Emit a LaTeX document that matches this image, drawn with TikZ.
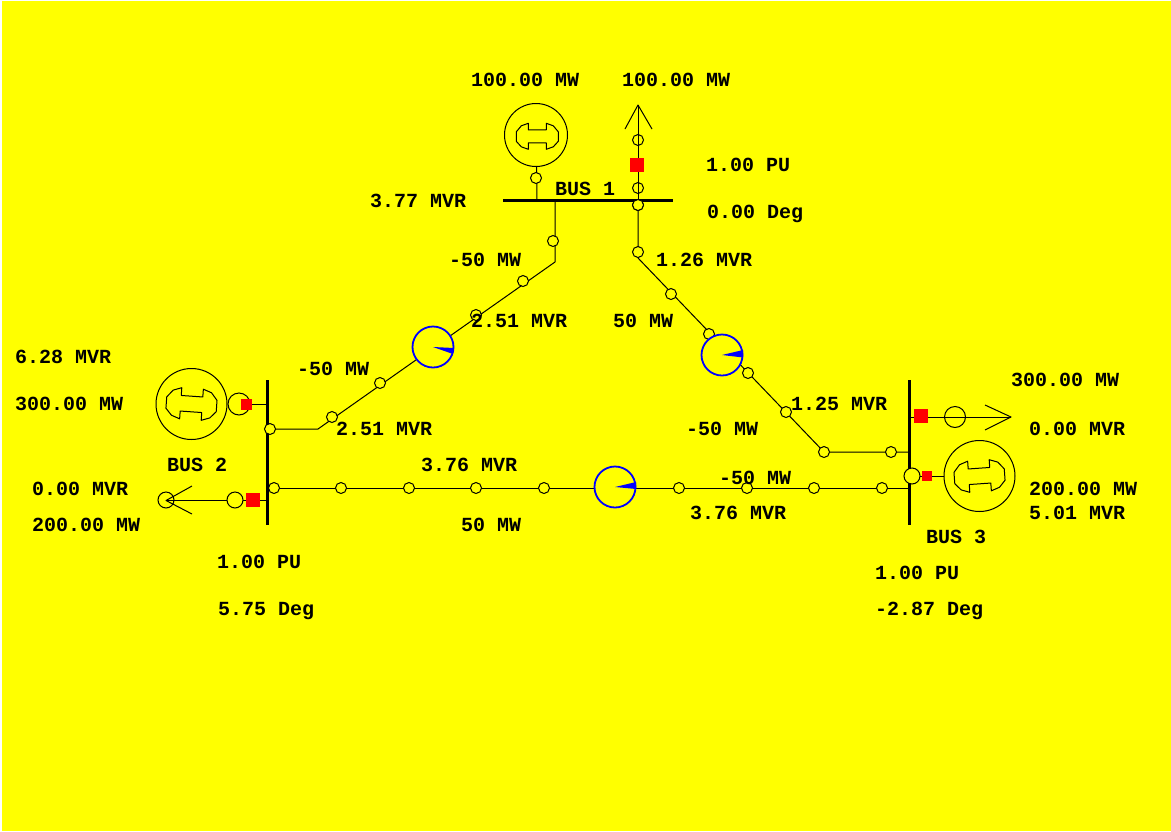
\documentclass[tikz,border=0pt]{standalone}
\usepackage{fontspec}
\setmainfont{Liberation Mono}
\definecolor{bgyellow}{RGB}{255,255,0}
\definecolor{brkred}{RGB}{255,0,0}
\definecolor{mtrblue}{RGB}{0,0,255}
\newcommand{\genshape}{(-9,-13)--(-9,-6.5)--(9,-6.5)--(9,-13)--(16,-10.5)--(21,-4.5)--(21,5)--(16,10.5)--(9,13)--(9,6.5)--(-9,6.5)--(-9,13)--(-16,10.5)--(-21,5)--(-21,-4.5)--(-16,-10.5)--cycle}
\tikzset{
  x=1pt,y=-1pt,
  wire/.style={draw=black,line width=1pt,line join=round},
  busbar/.style={draw=black,line width=3pt},
  tap/.style={circle,draw=black,fill=bgyellow,line width=1pt,inner sep=0pt,minimum size=11pt},
  tapbig/.style={circle,draw=black,fill=bgyellow,line width=1pt,inner sep=0pt,minimum size=16pt},
  tapopen/.style={circle,draw=black,line width=1pt,inner sep=0pt,minimum size=21pt},
  gen/.style={circle,draw=black,fill=bgyellow,line width=1pt,inner sep=0pt},
  breaker/.style={rectangle,fill=brkred,inner sep=0pt,minimum size=14pt},
  meter/.style={circle,draw=mtrblue,fill=bgyellow,line width=1.8pt,inner sep=0pt,minimum size=41pt},
  lab/.style={anchor=base west,inner sep=0pt,font=\fontsize{20}{20}\selectfont\bfseries,text=black}
}
\begin{document}
\begin{tikzpicture}
\useasboundingbox (0,0) rectangle (1171,831);
\fill[white] (0,0) rectangle (1171,831);
\fill[bgyellow] (2,1) rectangle (1171,831);

% buses
\coordinate (b1l) at (503,200); \coordinate (b1r) at (673,200);
\coordinate (b2t) at (267,380); \coordinate (b2b) at (267,525);
\coordinate (b3t) at (909.5,380); \coordinate (b3b) at (909.5,525);

% junctions on buses and bends
\coordinate (g1j) at (537,200);
\coordinate (l1j) at (638,200);
\coordinate (ln1l) at (555,200);
\coordinate (ln1la) at (555,262);
\coordinate (ln1r) at (638,258);
\coordinate (ln2b) at (318,429);
\coordinate (ln2j) at (267,429);
\coordinate (ln3b) at (824,452);
\coordinate (ln3j) at (909.5,452);
\coordinate (bl) at (267,488);
\coordinate (br) at (909.5,488);
\coordinate (g2j) at (267,404);
\coordinate (l2j) at (267,500.5);
\coordinate (l3j) at (909.5,417);
\coordinate (g3j) at (909.5,476);

% generator 1 and load 1
\node[gen,minimum size=63pt] (g1) at (536,135) {};
\draw[wire] (g1) -- (g1j);
\node[tap] (g1t) at (536,178) {};
\draw[wire] (l1j) -- (638,105) coordinate (l1tip);
\draw[wire] (625,129) -- (l1tip) -- (652,129);
\node[tap,fill=none] (l1a) at (638,140) {};
\node[breaker] (l1br) at (637,165) {};
\node[tap,fill=none] (l1b) at (638,188) {};

% line bus 1 - bus 3
\draw[wire] (l1j) -- (ln1r) -- (ln3b) -- (ln3j);
\node[tap] (r0) at (638,205) {};
\node[tap] (r1) at (638,252) {};
\node[tap] (r2) at (671,294) {};
\node[tap] (r3) at (709,334) {};
\node[meter] (m2) at (722,355) {};
\fill[mtrblue] (m2.center) -- +(21,-5) -- +(21,2.5) -- cycle;
\node[tap] (r4) at (748,373) {};
\node[tap] (r5) at (786,412) {};
\node[tap] (r6) at (824,452) {};
\node[tap] (r7) at (891,452) {};

% line bus 1 - bus 2
\draw[wire] (ln1l) -- (ln1la) -- (ln2b) -- (ln2j);
\node[tap] (l1) at (553,241) {};
\node[tap] (l2) at (523,281) {};
\node[tap] (l3) at (476,315) {};
\node[meter] (m1) at (433,347) {};
\fill[mtrblue] (m1.center) -- +(21,1) -- +(20,7) -- cycle;
\node[tap] (l4) at (380,383) {};
\node[tap] (l5) at (332,417) {};

% line bus 2 - bus 3
\draw[wire] (bl) -- (br);
\node[tap] (c1) at (274,488) {};
\node[tap] (c2) at (341,488) {};
\node[tap] (c3) at (409,488) {};
\node[tap] (c4) at (476,488) {};
\node[tap] (c5) at (544,488) {};
\node[meter] (m3) at (615,487) {};
\fill[mtrblue] (m3.center) -- +(21,-5) -- +(21,2) -- cycle;
\node[tap] (c6) at (679,488) {};
\node[tap] (c7) at (747,488) {};
\node[tap] (c8) at (814,488) {};
\node[tap] (c9) at (882,488) {};

% bus bars
\draw[busbar] (b1l) -- (b1r);
\draw[busbar] (b2t) -- (b2b);
\draw[busbar] (b3t) -- (b3b);
\node[tap] (r0b) at (638,205) {};
\node[tap] (l6) at (270,429) {};

% generator 2
\node[gen,minimum size=71pt] (g2) at (191.5,404) {};
\draw[wire] (g2) -- (g2j);
\node[circle,draw=black,fill=bgyellow,line width=1pt,inner sep=0pt,minimum size=22pt] (g2c) at (239,404) {};
\node[breaker,minimum size=11pt] (g2br) at (246,404) {};

% load 2
\draw[wire] (l2j) -- (166,500.5) coordinate (l2tip);
\draw[wire] (192,486) -- (l2tip) -- (192,514);
\node[tapbig,fill=none] (l2c) at (166,500) {};
\node[tapbig] (l2d) at (235,500) {};
\node[breaker] (l2br) at (253,500) {};

% load 3
\draw[wire] (l3j) -- (1011,417) coordinate (l3tip);
\draw[wire] (985,405) -- (l3tip) -- (985,430);
\node[breaker] (l3br) at (921,416) {};
\node[tapopen] (l3c) at (955,417) {};

% generator 3
\node[gen,minimum size=71pt] (g3) at (979.5,476) {};
\draw[wire] (g3) -- (g3j);
\node[tapbig] (g3c) at (912,476) {};
\node[breaker,minimum size=10pt] (g3br) at (927,476) {};

% generator rotors
\draw[wire,shift={(537.3,136.3)}] \genshape;
\draw[wire,shift={(191.5,404)},rotate=-4,scale=1.2] \genshape;
\draw[wire,shift={(979.5,476)},rotate=4,scale=1.2] \genshape;

% labels
\node[lab] (t1) at (471,86) {100.00 MW};
\node[lab] (t2) at (622,86) {100.00 MW};
\node[lab] (t3) at (706,171) {1.00 PU};
\node[lab] (t4) at (555,195) {BUS 1};
\node[lab] (t5) at (370,207) {3.77 MVR};
\node[lab] (t6) at (707,218) {0.00 Deg};
\node[lab] (t7) at (449,266) {-50 MW};
\node[lab] (t8) at (656,266) {1.26 MVR};
\node[lab] (t9) at (471,327) {2.51 MVR};
\node[lab] (t10) at (613,327) {50 MW};
\node[lab] (t11) at (297,375) {-50 MW};
\node[lab] (t12) at (15,363) {6.28 MVR};
\node[lab] (t13) at (15,410) {300.00 MW};
\node[lab] (t14) at (336,435) {2.51 MVR};
\node[lab] (t15) at (167,471) {BUS 2};
\node[lab] (t16) at (32,495) {0.00 MVR};
\node[lab] (t17) at (32,531) {200.00 MW};
\node[lab] (t18) at (421,471) {3.76 MVR};
\node[lab] (t19) at (461,531) {50 MW};
\node[lab] (t20) at (217,568) {1.00 PU};
\node[lab] (t21) at (218,615) {5.75 Deg};
\node[lab] (t22) at (686,435) {-50 MW};
\node[lab] (t23) at (791,410) {1.25 MVR};
\node[lab] (t24) at (1011,386) {300.00 MW};
\node[lab] (t25) at (1029,435) {0.00 MVR};
\node[lab] (t26) at (719,484) {-50 MW};
\node[lab] (t27) at (690,519) {3.76 MVR};
\node[lab] (t28) at (1029,495) {200.00 MW};
\node[lab] (t29) at (1029,519) {5.01 MVR};
\node[lab] (t30) at (926,543) {BUS 3};
\node[lab] (t31) at (875,579) {1.00 PU};
\node[lab] (t32) at (875,615) {-2.87 Deg};
\end{tikzpicture}
\end{document}
